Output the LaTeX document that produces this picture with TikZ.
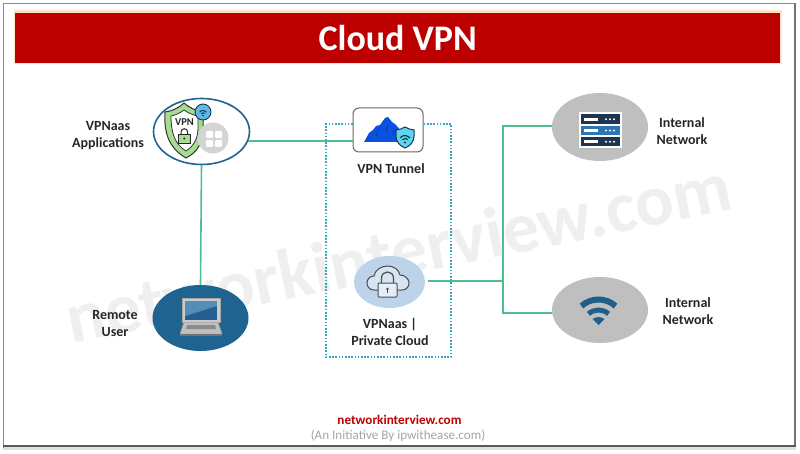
\documentclass[tikz,border=0pt]{standalone}
\usepackage{fontspec}
\setmainfont{Carlito}
\usetikzlibrary{shapes.geometric}
\definecolor{linkgreen}{HTML}{4DBF8A}
\definecolor{dotblue}{HTML}{35A3C4}
\definecolor{ovalblue}{HTML}{1F6391}
\definecolor{ovalgray}{HTML}{BFBFBF}
\definecolor{cloudblue}{HTML}{BDD3EA}
\definecolor{wmgray}{HTML}{EFEFEF}
\definecolor{barred}{HTML}{BC0000}
\definecolor{navy}{HTML}{1F3450}
\definecolor{barblue}{HTML}{2E75B6}
\definecolor{wifiblue}{HTML}{1F5F8B}
\definecolor{shieldgreen}{HTML}{A5DC8F}
\definecolor{badgeblue}{HTML}{5DB9E6}
\definecolor{mtblue}{HTML}{0B50E0}
\definecolor{tealbadge}{HTML}{5CD6EE}
\tikzset{
  oval/.style={ellipse,inner sep=0pt},
  link/.style={draw=linkgreen,line width=1.6pt},
  lbl/.style={align=center,font=\fontsize{14}{17}\selectfont\bfseries,text=black!85,inner sep=0pt},
}
\newcommand{\serverbar}[2]{%
  \fill[#2] (581,#1) rectangle (620,#1+9.5);
  \fill[white] (584,#1+3.4) rectangle (598,#1+6.2);
  \fill[white] (606,#1+4.8) circle (1.1) (610,#1+4.8) circle (1.1) (614,#1+4.8) circle (1.1);
}
\begin{document}
\begin{tikzpicture}[x=1pt,y=-1pt]
\useasboundingbox (0,0) rectangle (800,454);
\fill[white] (0,0) rectangle (800,454);
% frame
\fill[black!12] (3,447) rectangle (796,450);
\draw[black!45,line width=1.4pt] (3.5,448) -- (3.5,3.5) -- (794,3.5);
\draw[black!55,line width=2pt] (795,3.5) -- (795,446);
\draw[black!65,line width=2.4pt] (3,446) -- (796,446);
% watermark
\node[text=wmgray,rotate=11.5,inner sep=0pt,font=\fontsize{72}{80}\selectfont\bfseries] (wmark) at (398,252) {networkinterview.com};
% title
\fill[orange!22] (13.5,10.5) rectangle (782,64);
\node[fill=barred,minimum width=765pt,minimum height=50pt,inner sep=0pt,anchor=north west,text=white,font=\fontsize{36}{38}\selectfont\bfseries] (title) at (15,12.5) {Cloud VPN};
% nodes
\node[oval,draw=ovalblue,line width=1.6pt,fill=white,minimum width=96pt,minimum height=66pt] (apps) at (201.5,131.5) {};
\node[oval,fill=ovalblue,minimum width=96pt,minimum height=66pt] (laptop) at (200.5,318) {};
\node[rounded corners=6pt,draw=black!60,line width=1pt,fill=white,minimum width=70pt,minimum height=44pt,inner sep=0pt] (tunnel) at (388,130) {};
\node[oval,fill=cloudblue,minimum width=71pt,minimum height=52pt] (cloud) at (389.5,282) {};
\node[oval,fill=ovalgray,minimum width=96pt,minimum height=68pt] (server) at (600,127) {};
\node[oval,fill=ovalgray,minimum width=96pt,minimum height=66pt] (wifi) at (600,310) {};
% dotted box
\coordinate (dotTL) at (326,124);
\coordinate (dotBR) at (451,357);
\draw[dotblue,line width=1.6pt,dash pattern=on 1.6pt off 1.6pt] (tunnel.west |- dotTL) -- (dotTL) -- (dotTL |- dotBR) -- (dotBR) -- (dotBR |- dotTL) -- (tunnel.east |- dotTL);
% connectors
\coordinate (busTop) at (503,126);
\coordinate (busMid) at (503,281);
\coordinate (busBot) at (503,313);
\coordinate (cloudOut) at (428,281);
\coordinate (appsOut) at (247.5,141);
\draw[link] (appsOut) -- (appsOut -| tunnel.west);
\draw[link] (apps.south) -- (laptop.north);
\draw[link] (cloudOut) -- (busMid);
\draw[link] (server.west |- busTop) -- (busTop) -- (busBot) -- (wifi.west |- busBot);
% shield icon
\path[fill=shieldgreen,draw=black!80,line width=1pt]
  (184,103) .. controls (177,109) and (172,111) .. (165,112) .. controls (164,130) and (167,147) .. (186,158) .. controls (198,152) and (203,142) .. (203,128) -- (203,112) .. controls (196,111) and (190,108) .. (184,103) -- cycle;
\path[fill=white,draw=black!80,line width=.8pt]
  (184,110) .. controls (180,113) and (176,115) .. (171,116) .. controls (171,131) and (174,144) .. (186,151) .. controls (194,146) and (198,138) .. (198,128) -- (198,116) .. controls (193,115) and (188,113) .. (184,110) -- cycle;
\node[inner sep=0pt,font=\fontsize{10.5}{11}\selectfont\bfseries,text=black!85] (vpntext) at (184.5,122.5) {VPN};
\draw[black!85,line width=1pt] (181,134) -- (181,132) arc[start angle=180,end angle=0,radius=3.3pt] -- (187.6,134);
\path[fill=shieldgreen,draw=black!85,line width=.9pt] (178.5,134) rectangle (190,143);
\fill[black!85] (184.2,138.5) circle (1.2);
% wifi badge
\path[fill=badgeblue,draw=navy,line width=.9pt] (203,112) circle (8);
\draw[navy,line width=1pt] ({203-4.5*cos(40)},{115-4.5*sin(40)}) arc[start angle=140,end angle=40,radius=4.5pt];
\draw[navy,line width=1pt] ({203-2.2*cos(40)},{115-2.2*sin(40)}) arc[start angle=140,end angle=40,radius=2.2pt];
\fill[navy] (203,115.5) circle (.9);
% grid badge
\fill[black!17] (213,138) circle (15.5);
\foreach \gx/\gy in {206/131,215/131,206/140,215/140}{\fill[white,rounded corners=1pt] (\gx,\gy) rectangle ++(7,7);}
% mountain
\fill[mtblue] (364,142) -- (369,133) -- (373,130) -- (376,126) -- (380,125) -- (385,118) -- (388,117) -- (392,122) -- (396,125) -- (400,130) -- (404,142) -- cycle;
\draw[navy,line width=.5pt] (378,130) -- (376,136) (388,125) -- (386,132) (394,129) -- (393,135) (370,137) -- (369,140);
% teal shield badge
\path[fill=tealbadge,draw=navy,line width=1pt] (405,127) .. controls (402,129) and (399,129.5) .. (396,130) -- (396,136) .. controls (396,142) and (400,146) .. (405,148) .. controls (410,146) and (414,142) .. (414,136) -- (414,130) .. controls (411,129.5) and (408,129) .. (405,127) -- cycle;
\draw[navy,line width=1.2pt] ({405-6.5*cos(40)},{142-6.5*sin(40)}) arc[start angle=140,end angle=40,radius=6.5pt];
\draw[navy,line width=1.2pt] ({405-3.6*cos(40)},{142-3.6*sin(40)}) arc[start angle=140,end angle=40,radius=3.6pt];
\fill[navy] (405,142.5) circle (1.2);
% cloud with lock
\path[fill=cloudblue!60!white,draw=black!70,line width=1pt]
  (374,290) .. controls (369,290) and (367,286) .. (367,283) .. controls (367,279) and (370,276) .. (374,276) .. controls (375,270) and (381,266) .. (388,266) .. controls (394,266) and (399,270) .. (400,275) .. controls (405,275) and (409,279) .. (409,283) .. controls (409,287) and (406,290) .. (402,290) -- cycle;
\draw[black!70,line width=1.2pt] (381.5,283) -- (381.5,278) .. controls (381.5,270) and (393.5,270) .. (393.5,278) -- (393.5,283);
\path[fill=cloudblue!40!white,draw=black!70,line width=1pt,rounded corners=1pt] (378,283) rectangle (397,297);
\fill[black!70] (387.5,289) circle (1.4);
\draw[black!70,line width=.8pt] (387.5,289) -- (387.5,292.5);
% server icon
\fill[white] (579,112) rectangle (622,148);
\serverbar{114.5}{navy}
\serverbar{125.8}{barblue}
\serverbar{137}{navy}
% wifi icon
\foreach \r/\w in {25.5/6,15/5}{
  \draw[wifiblue,line width=\w pt] ({598.5-\r*cos(48)},{325-\r*sin(48)}) arc[start angle=132,end angle=48,radius=\r pt];
}
\fill[wifiblue] (592.5,319) -- (598.5,325) -- (604.5,319) .. controls (601,316.5) and (596,316.5) .. (592.5,319) -- cycle;
% laptop icon
\path[fill=black!20,draw=black!35,line width=.5pt] (182,298) rectangle (220,322);
\fill[barblue!80!black] (185,301) rectangle (217,320);
\fill[cyan!30!white,opacity=.35] (185,301) -- (217,301) -- (217,306) -- (185,316) -- cycle;
\path[fill=black!25,draw=black!40,line width=.5pt] (184,322) -- (218,322) -- (222,334) -- (180,334) -- cycle;
\fill[black!45] (187,325) -- (215,325) -- (216,329) -- (186,329) -- cycle;
\fill[black!55] (180,334) rectangle (222,335.5);
% labels
\node[lbl] (lblApps) at (108,135.5) {VPNaas\\Applications};
\node[lbl] (lblTunnel) at (391,169) {VPN Tunnel};
\node[lbl] (lblCloud) at (390,331.5) {VPNaas |\\Private Cloud};
\node[lbl] (lblNet1) at (682,131) {Internal\\Network};
\node[lbl] (lblNet2) at (688,311) {Internal\\Network};
\node[lbl] (lblUser) at (115,323.5) {Remote\\User};
% footer
\node[inner sep=0pt,text=barred,font=\fontsize{13.2}{15}\selectfont\bfseries] (foot1) at (399.5,420) {networkinterview.com};
\node[inner sep=0pt,text=black!35,font=\fontsize{13.1}{15}\selectfont] (foot2) at (398,436) {(An Initiative By ipwithease.com)};
\end{tikzpicture}
\end{document}
